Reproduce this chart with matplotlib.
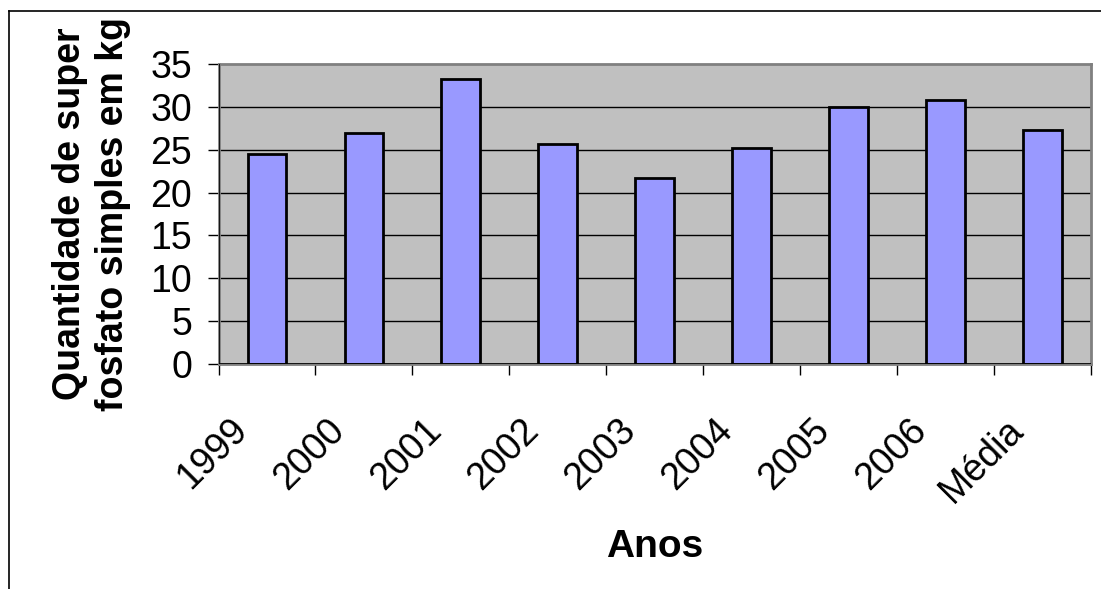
import numpy as np
import matplotlib
matplotlib.use('Agg')
import matplotlib.pyplot as plt
import matplotlib.transforms as mtransforms
from matplotlib.lines import Line2D
from matplotlib.ticker import FixedLocator

#data
anos = ['1999', '2000', '2001', '2002', '2003', '2004', '2005', '2006', 'Média']
quantidade = [24.5, 26.9, 33.2, 25.65, 21.7, 25.2, 30.0, 30.8, 27.3]
yticks = [0, 5, 10, 15, 20, 25, 30, 35]

plt.rcParams['font.family'] = ['Liberation Sans', 'DejaVu Sans']

W, H = 1101, 589
fig = plt.figure(figsize=(W / 100, H / 100), dpi=100)
ax = fig.add_axes([218.5 / W, 1 - 364 / H, 872.5 / W, 300 / H])
ax.set_facecolor('#C0C0C0')

x = np.arange(len(anos))
ax.bar(x, quantidade, width=0.4, color='#9999FF', edgecolor='black', linewidth=2, zorder=3)

ax.set_xlim(-0.5, len(anos) - 0.5)
ax.set_ylim(0, 35)
ax.set_yticks(yticks)
ax.set_yticklabels([str(v) for v in yticks], fontsize=27)
for v in yticks[1:-1]:
    ax.axhline(v, color='black', lw=1, zorder=1)

#plot area border + axis lines
for s in ax.spines.values():
    s.set_color('#808080')
    s.set_linewidth(2)
ax.axhline(0, color='black', lw=1.2, zorder=4)
ax.axvline(-0.5, color='black', lw=1.2, zorder=4)

ax.tick_params(axis='y', length=8, width=1, direction='out', pad=11)
ax.set_xticks(x)
ax.tick_params(axis='x', which='major', length=0)
ax.xaxis.set_minor_locator(FixedLocator(np.arange(-0.5, len(anos), 1.0)))
ax.tick_params(axis='x', which='minor', length=8, width=1, direction='out')

ax.set_xticklabels(anos, fontsize=27, rotation=45, ha='right', va='top')
off = mtransforms.ScaledTranslation(-12 / 100, -43 / 100, fig.dpi_scale_trans)
for lbl in ax.get_xticklabels():
    lbl.set_transform(lbl.get_transform() + off)

ax.set_xlabel('Anos', fontsize=28, fontweight='bold')
ax.xaxis.set_label_coords((655 - 218.5) / 872.5, -(529 - 364) / 300)
ax.set_ylabel('Quantidade de super\nfosfato simples em kg', fontsize=27,
              fontweight='bold', linespacing=1.25)
#label coords give the right-hand edge of the rotated label
ax.yaxis.set_label_coords(-(218.5 - 131) / 872.5, 0.5)

#outer frame (cut off at right and bottom)
fig.add_artist(Line2D([8.5 / W, 1], [1 - 11 / H, 1 - 11 / H], color='black', lw=1.2,
                      transform=fig.transFigure))
fig.add_artist(Line2D([8.5 / W, 8.5 / W], [0, 1 - 11 / H], color='black', lw=1.2,
                      transform=fig.transFigure))

fig.savefig('out.png', dpi=100)
